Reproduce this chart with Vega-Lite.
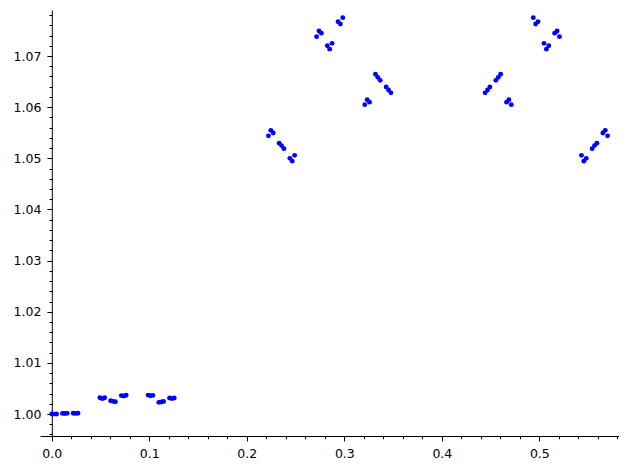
{
  "$schema": "https://vega.github.io/schema/vega-lite/v6.json",
  "width": 578.5,
  "height": 426,
  "autosize": "none",
  "padding": {"left": 40, "top": 10, "right": 9.5, "bottom": 34},
  "background": "white",
  "config": {
    "view": {"stroke": null},
    "axis": {
      "domainColor": "black",
      "domainWidth": 1,
      "tickColor": "black",
      "tickWidth": 1,
      "labelColor": "black",
      "labelFont": "DejaVu Sans",
      "labelFontSize": 12.5,
      "labelPadding": 6,
      "labelOverlap": false,
      "labelFlush": false,
      "labelBound": false,
      "grid": false,
      "title": null
    }
  },
  "data": {
    "values": [
      {"x": 0.0, "y": 1.00000}, {"x": 0.00244, "y": 0.99998}, {"x": 0.00488, "y": 1.00001},
      {"x": 0.01097, "y": 1.00012}, {"x": 0.01341, "y": 1.00010}, {"x": 0.01585, "y": 1.00013},
      {"x": 0.02195, "y": 1.00014}, {"x": 0.02439, "y": 1.00012}, {"x": 0.02683, "y": 1.00015},
      {"x": 0.04938, "y": 1.00319}, {"x": 0.05182, "y": 1.00300}, {"x": 0.05426, "y": 1.00319},
      {"x": 0.06035, "y": 1.00258}, {"x": 0.06279, "y": 1.00248}, {"x": 0.06523, "y": 1.00240},
      {"x": 0.07133, "y": 1.00360}, {"x": 0.07377, "y": 1.00352}, {"x": 0.07621, "y": 1.00368},
      {"x": 0.09877, "y": 1.00370}, {"x": 0.10121, "y": 1.00358}, {"x": 0.10365, "y": 1.00364},
      {"x": 0.10974, "y": 1.00228}, {"x": 0.11218, "y": 1.00236}, {"x": 0.11462, "y": 1.00244},
      {"x": 0.12072, "y": 1.00312}, {"x": 0.12316, "y": 1.00302}, {"x": 0.12560, "y": 1.00314},
      {"x": 0.22222, "y": 1.05439}, {"x": 0.22466, "y": 1.05547}, {"x": 0.22710, "y": 1.05495},
      {"x": 0.23320, "y": 1.05293}, {"x": 0.23564, "y": 1.05248}, {"x": 0.23808, "y": 1.05189},
      {"x": 0.24417, "y": 1.04999}, {"x": 0.24661, "y": 1.04944}, {"x": 0.24905, "y": 1.05058},
      {"x": 0.27160, "y": 1.07379}, {"x": 0.27404, "y": 1.07490}, {"x": 0.27648, "y": 1.07447},
      {"x": 0.28257, "y": 1.07200}, {"x": 0.28501, "y": 1.07134}, {"x": 0.28745, "y": 1.07248},
      {"x": 0.29355, "y": 1.07672}, {"x": 0.29599, "y": 1.07626}, {"x": 0.29843, "y": 1.07750},
      {"x": 0.32099, "y": 1.06049}, {"x": 0.32343, "y": 1.06147}, {"x": 0.32587, "y": 1.06098},
      {"x": 0.33196, "y": 1.06644}, {"x": 0.33440, "y": 1.06583}, {"x": 0.33684, "y": 1.06524},
      {"x": 0.34294, "y": 1.06394}, {"x": 0.34538, "y": 1.06336}, {"x": 0.34782, "y": 1.06280},
      {"x": 0.44444, "y": 1.06280}, {"x": 0.44688, "y": 1.06336}, {"x": 0.44932, "y": 1.06394},
      {"x": 0.45542, "y": 1.06524}, {"x": 0.45786, "y": 1.06583}, {"x": 0.46030, "y": 1.06644},
      {"x": 0.46639, "y": 1.06098}, {"x": 0.46883, "y": 1.06147}, {"x": 0.47127, "y": 1.06049},
      {"x": 0.49383, "y": 1.07750}, {"x": 0.49627, "y": 1.07626}, {"x": 0.49870, "y": 1.07672},
      {"x": 0.50480, "y": 1.07248}, {"x": 0.50724, "y": 1.07134}, {"x": 0.50968, "y": 1.07200},
      {"x": 0.51577, "y": 1.07447}, {"x": 0.51821, "y": 1.07490}, {"x": 0.52065, "y": 1.07379},
      {"x": 0.54321, "y": 1.05058}, {"x": 0.54565, "y": 1.04944}, {"x": 0.54809, "y": 1.04999},
      {"x": 0.55418, "y": 1.05189}, {"x": 0.55662, "y": 1.05248}, {"x": 0.55906, "y": 1.05293},
      {"x": 0.56516, "y": 1.05495}, {"x": 0.56760, "y": 1.05547}, {"x": 0.57004, "y": 1.05439}
    ]
  },
  "mark": {"type": "circle", "size": 24, "color": "#0000ff", "opacity": 1},
  "encoding": {
    "x": {
      "field": "x",
      "type": "quantitative",
      "scale": {"domain": [-0.0121, 0.5812], "nice": false, "zero": false},
      "axis": {
        "orient": "bottom",
        "labelPadding": 7,
        "values": [0, 0.02, 0.04, 0.06, 0.08, 0.1, 0.12, 0.14, 0.16, 0.18, 0.2, 0.22, 0.24, 0.26, 0.28, 0.3, 0.32, 0.34, 0.36, 0.38, 0.4, 0.42, 0.44, 0.46, 0.48, 0.5, 0.52, 0.54, 0.56, 0.58],
        "labelExpr": "abs(datum.value*10 - round(datum.value*10)) < 1e-6 ? format(datum.value, '.1f') : ''",
        "tickSize": {"condition": {"test": "abs(datum.value*10 - round(datum.value*10)) < 1e-6", "value": 4.9}, "value": 2.8}
      }
    },
    "y": {
      "field": "y",
      "type": "quantitative",
      "scale": {"domain": [0.9957, 1.079], "nice": false, "zero": false},
      "axis": {
        "orient": "left",
        "offset": -11.8,
        "values": [0.996, 0.998, 1.0, 1.002, 1.004, 1.006, 1.008, 1.01, 1.012, 1.014, 1.016, 1.018, 1.02, 1.022, 1.024, 1.026, 1.028, 1.03, 1.032, 1.034, 1.036, 1.038, 1.04, 1.042, 1.044, 1.046, 1.048, 1.05, 1.052, 1.054, 1.056, 1.058, 1.06, 1.062, 1.064, 1.066, 1.068, 1.07, 1.072, 1.074, 1.076, 1.078],
        "labelExpr": "abs(datum.value*100 - round(datum.value*100)) < 1e-6 ? format(datum.value, '.2f') : ''",
        "tickSize": {"condition": {"test": "abs(datum.value*100 - round(datum.value*100)) < 1e-6", "value": 4.9}, "value": 2.8}
      }
    }
  }
}
